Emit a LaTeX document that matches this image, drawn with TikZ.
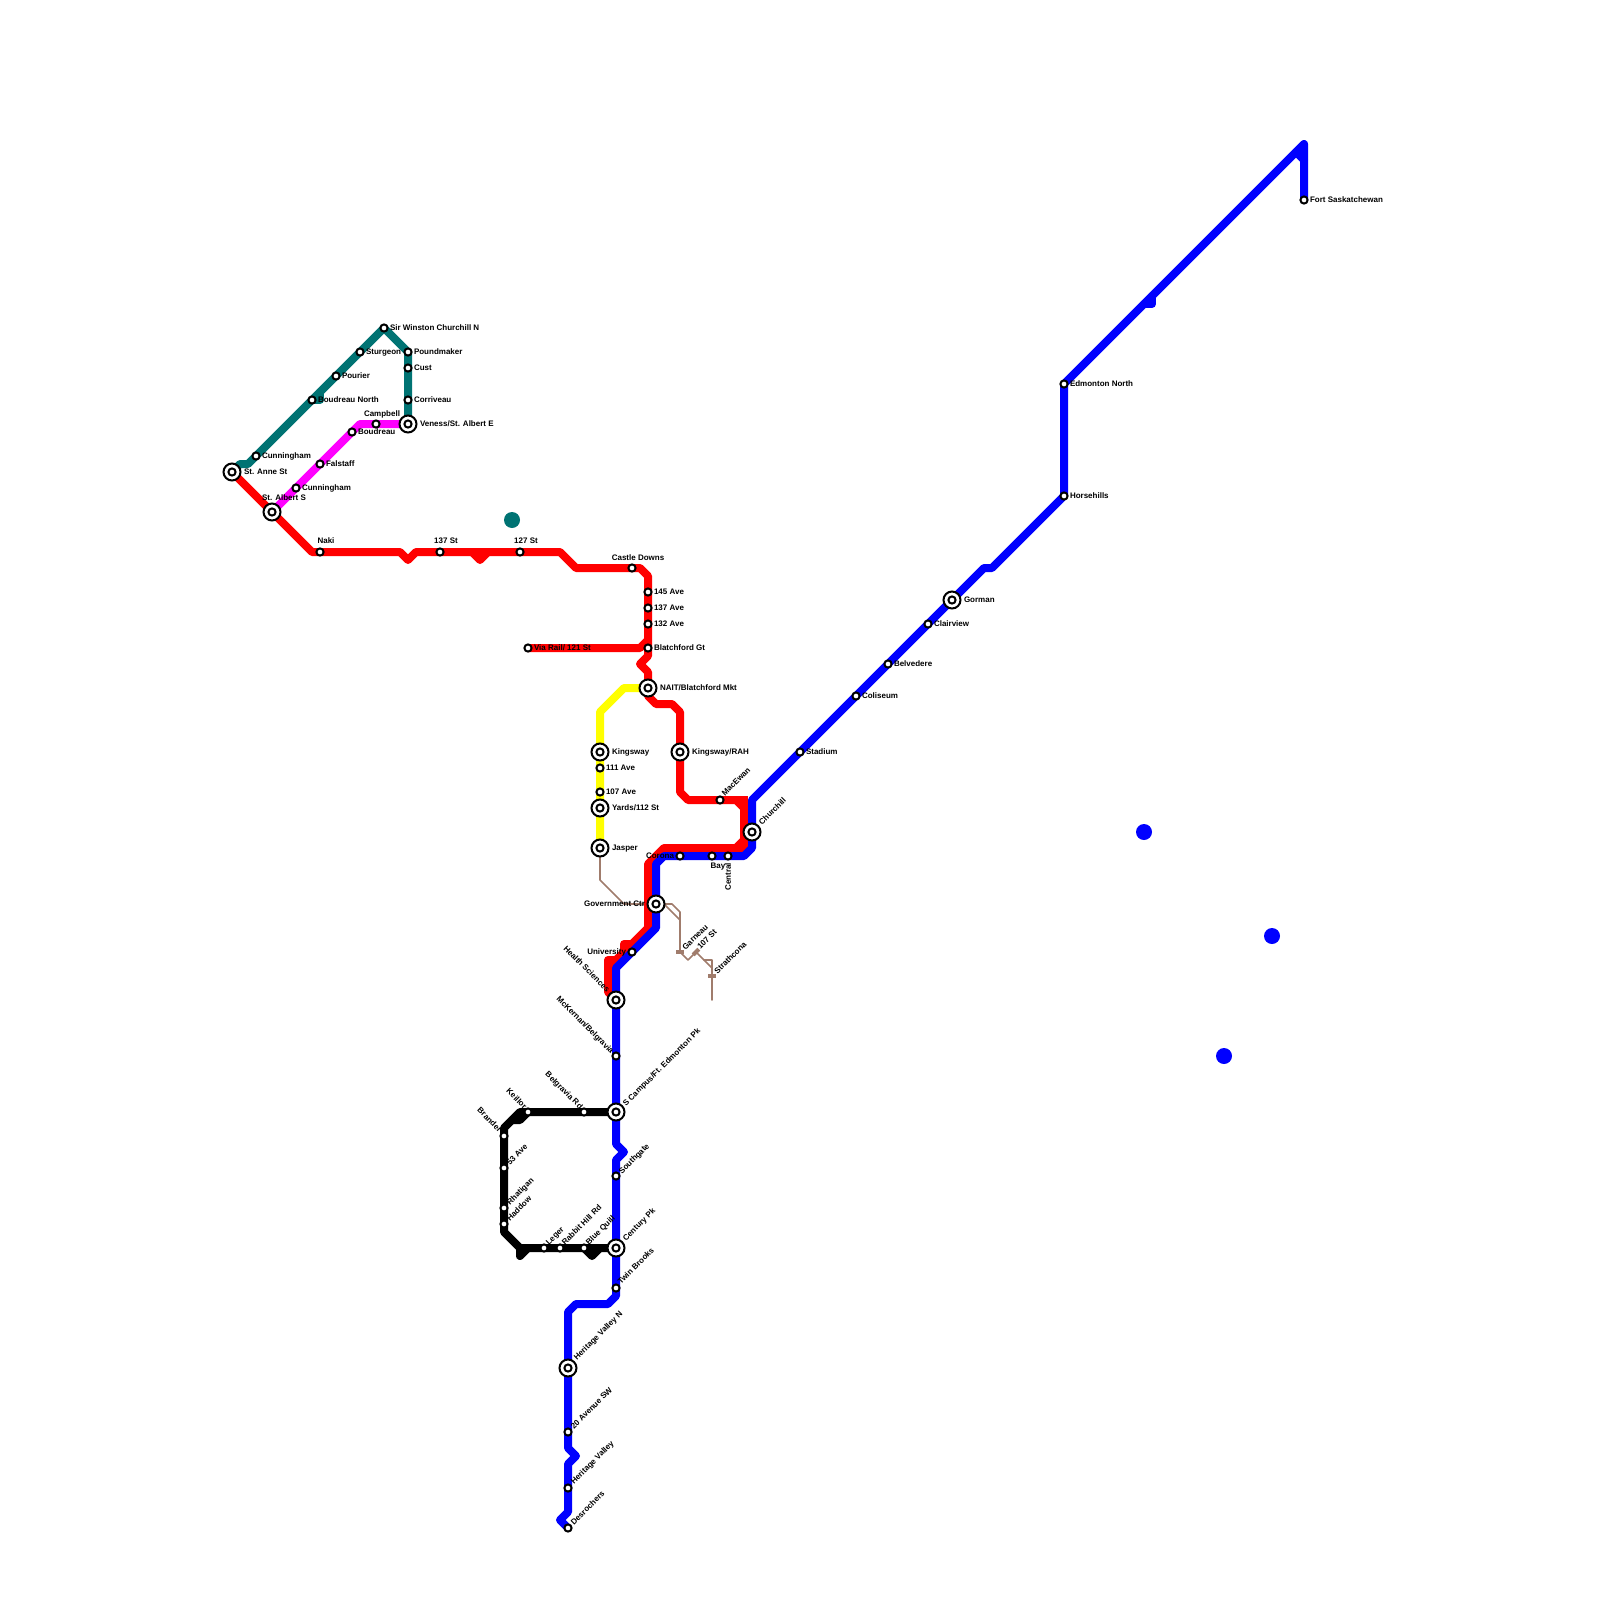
\documentclass[tikz,border=0pt]{standalone}
\usepackage{fontspec}
\setmainfont{Liberation Sans}
\definecolor{ltblue}{RGB}{0,0,255}
\definecolor{ltred}{RGB}{255,0,0}
\definecolor{ltteal}{RGB}{0,115,115}
\definecolor{ltmag}{RGB}{255,0,255}
\definecolor{ltyel}{RGB}{255,255,0}
\definecolor{ltbrown}{RGB}{160,124,108}
\tikzset{
  mline/.style={line width=8pt,line cap=round,line join=round},
  thinline/.style={line width=1.6pt,draw=ltbrown,line cap=round,line join=round},
  stn/.style={circle,draw=black,fill=white,line width=2pt,minimum size=7.2pt,inner sep=0pt,outer sep=0pt},
  hub/.style={circle,draw=black,fill=white,line width=2pt,minimum size=17pt,inner sep=0pt,outer sep=0pt},
  lbl/.style={inner sep=0pt,outer sep=0pt,text=black,font=\fontsize{8pt}{9pt}\selectfont\bfseries},
  bar/.style={fill=ltbrown,minimum width=8pt,minimum height=4.2pt,inner sep=0pt,outer sep=0pt},
  dot/.style={circle,minimum size=16pt,inner sep=0pt,outer sep=0pt}
}
\newcommand{\Sn}[1]{\node[stn] (n#1) at (#1) {};}
\newcommand{\Hb}[1]{\node[hub] (h#1) at (#1) {};\node[stn] (n#1) at (#1) {};}
% right label: id, dx, text
\newcommand{\LR}[3]{\node[lbl,anchor=base west,xshift=#2pt,yshift=-2.6pt] (t#1) at (#1) {#3};}
% left label
\newcommand{\LL}[3]{\node[lbl,anchor=base east,xshift=-#2pt,yshift=-2.6pt] (t#1) at (#1) {#3};}
% above label, centred 6 right
\newcommand{\LA}[3]{\node[lbl,anchor=base,xshift=6pt,yshift=#2pt] (t#1) at (#1) {#3};}
% rising 45 label: id,dx,dy(up),text
\newcommand{\LU}[4]{\node[lbl,anchor=base west,xshift=#2pt+2pt,yshift=#3pt-2.5pt,rotate=45] (t#1) at (#1) {#4};}
% falling 45 label
\newcommand{\LD}[4]{\node[lbl,anchor=base east,xshift=-#2pt-1.5pt,yshift=#3pt-2.5pt,rotate=-45] (t#1) at (#1) {#4};}
\begin{document}
\begin{tikzpicture}[x=1pt,y=-1pt]
\useasboundingbox (0,0) rectangle (1600,1600);
% station positions
\foreach \n/\x/\y in {
 stanne/232/472,stalbert/272/512,naki/320/552,st137/440/552,st127/520/552,castle/632/568,
 a145/648/592,a137/648/608,a132/648/624,blatch/648/648,via/528/648,nait/648/688,
 kingsway/600/752,a111/600/768,a107/600/792,yards/600/808,jasper/600/848,
 rah/680/752,macewan/720/800,churchill/752/832,corona/680/856,bay/712/856,central/728/856,
 gov/656/904,univ/632/952,health/616/1000,mck/616/1056,scampus/616/1112,southgate/616/1176,
 century/616/1248,twin/616/1288,hvn/568/1368,sw20/568/1432,hv/568/1488,desro/568/1528,
 belg/584/1112,keillor/528/1112,brander/504/1136,a53/504/1168,rhat/504/1208,haddow/504/1224,
 leger/544/1248,rabbit/560/1248,quill/584/1248,
 cunnA/256/456,boudn/312/400,pourier/336/376,sturgeon/360/352,winston/384/328,
 pound/408/352,cust/408/368,corr/408/400,veness/408/424,campbell/376/424,boud/352/432,
 falstaff/320/464,cunnB/296/488,
 stadium/800/752,coliseum/856/696,belv/888/664,clair/928/624,gorman/952/600,
 horse/1064/496,edn/1064/384,fort/1304/200,
 garneau/680/952,st107/696/952,strath/712/976}
 {\coordinate (\n) at (\x,\y);}
% brown line
\draw[thinline] (jasper) -- (600,880) -- (624,904) -- (gov) -- (664,904) -- (680,920) -- (garneau) -- (688,960) -- (st107) -- (712,968) -- (strath) -- (712,1000);
\draw[thinline] (664,904) -- (672,904) -- (680,912) -- (680,920);
\draw[thinline] (704,960) -- (712,960) -- (712,968);
\node[bar] (bgarneau) at (garneau) {};
\node[bar] (bstrath) at (strath) {};
\node[bar,rotate=45] (bst107) at (st107) {};
% yellow
\draw[mline,ltyel] (nait) -- (624,688) -- (600,712) -- (kingsway) -- (a111) -- (a107) -- (yards) -- (jasper);
% magenta
\draw[mline,ltmag] (stalbert) -- (cunnB) -- (falstaff) -- (boud) -- (360,424) -- (campbell) -- (veness);
% teal
\draw[mline,ltteal] (stanne) -- (240,464) -- (248,464) -- (cunnA) -- (boudn) -- (pourier) -- (sturgeon) -- (winston) -- (pound) -- (cust) -- (corr) -- (veness);
\draw[mline,ltteal] (320,392) -- (320,400) -- (boudn);
\node[dot,fill=ltteal] (tealdot) at (512,520) {};
% red
\draw[mline,ltred] (stanne) -- (stalbert) -- (312,552) -- (naki) -- (400,552) -- (408,560) -- (416,552) -- (st137) -- (st127) -- (560,552) -- (576,568) -- (castle) -- (640,568) -- (648,576) -- (a145) -- (a137) -- (a132) -- (blatch) -- (648,656) -- (640,664) -- (648,672) -- (nait) -- (648,696) -- (656,704) -- (672,704) -- (680,712) -- (rah) -- (680,792) -- (688,800) -- (macewan) -- (736,800) -- (744,808) -- (744,840) -- (736,848) -- (664,848) -- (648,864) -- (648,928) -- (608,968) -- (608,992) -- (health);
\draw[mline,ltred] (472,552) -- (480,560) -- (488,552);
\draw[mline,ltred] (via) -- (640,648) -- (648,640);
\draw[mline,ltred,line join=miter,line cap=butt] (736,800) -- (744,800) -- (744,808);
\draw[mline,ltred,line join=miter,line cap=butt] (744,840) -- (744,848) -- (736,848);
\draw[mline,ltred] (632,944) -- (624,944) -- (624,952);
\draw[mline,ltred] (616,960) -- (608,960) -- (608,968);
% black
\draw[mline,black] (scampus) -- (belg) -- (keillor) -- (520,1112) -- (504,1128) -- (brander) -- (a53) -- (rhat) -- (haddow) -- (504,1232) -- (520,1248) -- (leger) -- (rabbit) -- (quill) -- (century);
\draw[mline,black] (keillor) -- (520,1120) -- (512,1120);
\draw[mline,black] (520,1248) -- (520,1256) -- (528,1248);
\draw[mline,black] (quill) -- (592,1256) -- (600,1248);
% blue
\draw[mline,ltblue] (desro) -- (560,1520) -- (568,1512) -- (hv) -- (568,1464) -- (576,1456) -- (568,1448) -- (sw20) -- (hvn) -- (568,1312) -- (576,1304) -- (608,1304) -- (616,1296) -- (twin) -- (century) -- (southgate) -- (616,1160) -- (624,1152) -- (616,1144) -- (scampus) -- (mck) -- (health) -- (616,968) -- (univ) -- (656,928) -- (gov) -- (656,864) -- (664,856) -- (corona) -- (bay) -- (central) -- (744,856) -- (752,848) -- (churchill) -- (752,800) -- (stadium) -- (coliseum) -- (belv) -- (clair) -- (gorman) -- (984,568) -- (992,568) -- (horse) -- (edn) -- (1304,144) -- (fort);
\draw[mline,ltblue] (1296,152) -- (1304,160);
\draw[mline,ltblue] (1152,296) -- (1152,304) -- (1144,304);
\node[dot,fill=ltblue] (bdotA) at (1144,832) {};
\node[dot,fill=ltblue] (bdotB) at (1272,936) {};
\node[dot,fill=ltblue] (bdotC) at (1224,1056) {};
% stations
\foreach \s in {naki,st137,st127,castle,a145,a137,a132,blatch,via,a111,a107,macewan,corona,bay,central,univ,mck,southgate,twin,sw20,hv,desro,belg,keillor,brander,a53,rhat,haddow,leger,rabbit,quill,cunnA,boudn,pourier,sturgeon,winston,pound,cust,corr,campbell,boud,falstaff,cunnB,stadium,coliseum,belv,clair,horse,edn,fort}{\Sn{\s}}
\foreach \s in {stanne,stalbert,nait,kingsway,yards,jasper,rah,churchill,gov,health,scampus,century,hvn,veness,gorman}{\Hb{\s}}
% labels
\LR{stanne}{12}{St. Anne St}
\node[lbl,anchor=base] (tstalbert) at (284,500) {St. Albert S};
\LA{naki}{8.5}{Naki}
\LA{st137}{8.5}{137 St}
\LA{st127}{8.5}{127 St}
\LA{castle}{8}{Castle Downs}
\LR{a145}{6}{145 Ave}
\LR{a137}{6}{137 Ave}
\LR{a132}{6}{132 Ave}
\LR{blatch}{6}{Blatchford Gt}
\LR{via}{6}{Via Rail/ 121 St}
\LR{nait}{12}{NAIT/Blatchford Mkt}
\LR{kingsway}{12}{Kingsway}
\LR{a111}{6}{111 Ave}
\LR{a107}{6}{107 Ave}
\LR{yards}{12}{Yards/112 St}
\LR{jasper}{12}{Jasper}
\LR{rah}{12}{Kingsway/RAH}
\LU{macewan}{3}{6}{MacEwan}
\LU{churchill}{8}{9}{Churchill}
\LL{corona}{6}{Corona}
\node[lbl,anchor=base,xshift=6pt,yshift=-12pt] (tbay) at (bay) {Bay};
\node[lbl,anchor=east,rotate=90] (tcentral) at (728,863) {Central};
\LL{gov}{11}{Government Ctr}
\LU{garneau}{3.5}{4}{Garneau}
\LU{st107}{2.5}{5}{107 St}
\LU{strath}{3.5}{4}{Strathcona}
\LL{univ}{6}{University}
\LD{health}{8}{10}{Health Sciences}
\LD{mck}{4}{4.5}{McKernan/Belgravia}
\LU{scampus}{8}{8}{S Campus/Ft. Edmonton Pk}
\LD{belg}{3}{5}{Belgravia Rd}
\LD{keillor}{3}{5}{Keillor}
\LD{brander}{4}{6}{Brander}
\LU{a53}{4}{5}{53 Ave}
\LU{rhat}{4}{5}{Rhatigan}
\LU{haddow}{4}{5}{Haddow}
\LU{leger}{3}{5}{Leger}
\LU{rabbit}{3}{5}{Rabbit Hill Rd}
\LU{quill}{3}{5}{Blue Quill}
\LU{southgate}{4}{4}{Southgate}
\LU{century}{8}{9}{Century Pk}
\LU{twin}{3}{6}{Twin Brooks}
\LU{hvn}{7}{10}{Heritage Valley N}
\LU{sw20}{4}{5}{20 Avenue SW}
\LU{hv}{4}{6}{Heritage Valley}
\LU{desro}{4}{5}{Desrochers}
\LR{cunnA}{6}{Cunningham}
\LR{boudn}{6}{Boudreau North}
\LR{pourier}{6}{Pourier}
\LR{sturgeon}{6}{Sturgeon}
\LR{winston}{6}{Sir Winston Churchill N}
\LR{pound}{6}{Poundmaker}
\LR{cust}{6}{Cust}
\LR{corr}{6}{Corriveau}
\LR{veness}{12}{Veness/St. Albert E}
\LA{campbell}{8}{Campbell}
\LR{boud}{6}{Boudreau}
\LR{falstaff}{6}{Falstaff}
\LR{cunnB}{6}{Cunningham}
\LR{stadium}{6}{Stadium}
\LR{coliseum}{6}{Coliseum}
\LR{belv}{6}{Belvedere}
\LR{clair}{6}{Clairview}
\LR{gorman}{12}{Gorman}
\LR{horse}{6}{Horsehills}
\LR{edn}{6}{Edmonton North}
\LR{fort}{6}{Fort Saskatchewan}
\end{tikzpicture}
\end{document}
